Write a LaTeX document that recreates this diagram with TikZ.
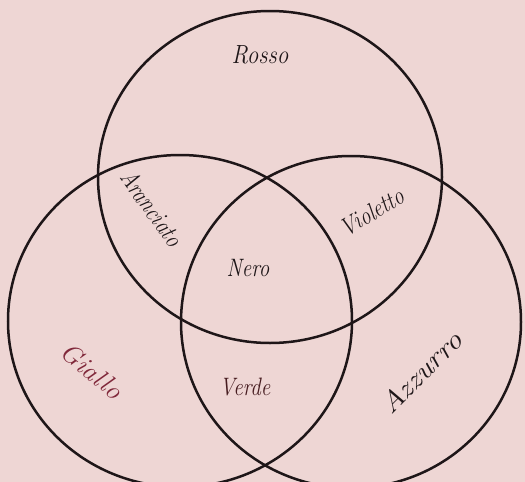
\documentclass[tikz,border=0pt]{standalone}
\definecolor{bgpink}{RGB}{238,214,212}
\definecolor{inkc}{RGB}{30,22,24}
\definecolor{gialloc}{RGB}{128,40,58}
\definecolor{verdec}{RGB}{70,28,32}
\tikzset{
  ring/.style={draw=inkc, line width=2.5pt},
  lbl/.style={font=\itshape\fontsize{21}{24}\selectfont, text=inkc, inner sep=0pt}
}
\begin{document}
\begin{tikzpicture}[x=1pt,y=-1pt]
\fill[bgpink] (0,0) rectangle (525,482);
\useasboundingbox (0,0) rectangle (525,482);
\coordinate (ctop) at (270,177);
\coordinate (cleft) at (180,321);
\coordinate (cright) at (351,322);
\draw[ring] (ctop) ellipse [x radius=172pt, y radius=166pt];
\draw[ring] (cleft) ellipse [x radius=172pt, y radius=166pt];
\draw[ring] (cright) ellipse [x radius=170pt, y radius=166pt];
\node[lbl, xscale=1.1, yscale=1.25] (rosso) at (260,55) {Rosso};
\node[lbl, rotate=-54, yscale=1.2] (arancio) at (152,208) {Aranciato};
\node[lbl, rotate=31, yscale=1.2] (violetto) at (372,212) {Violetto};
\node[lbl, yscale=1.2] (nero) at (248,268) {Nero};
\node[lbl, text=gialloc, rotate=-40, xscale=1.3, yscale=1.25] (giallo) at (92,371) {Giallo};
\node[lbl, text=verdec, yscale=1.2] (verde) at (245,387) {Verde};
\node[lbl, rotate=45, xscale=1.5, yscale=1.3] (azzurro) at (421,372) {Azzurro};
\end{tikzpicture}
\end{document}
